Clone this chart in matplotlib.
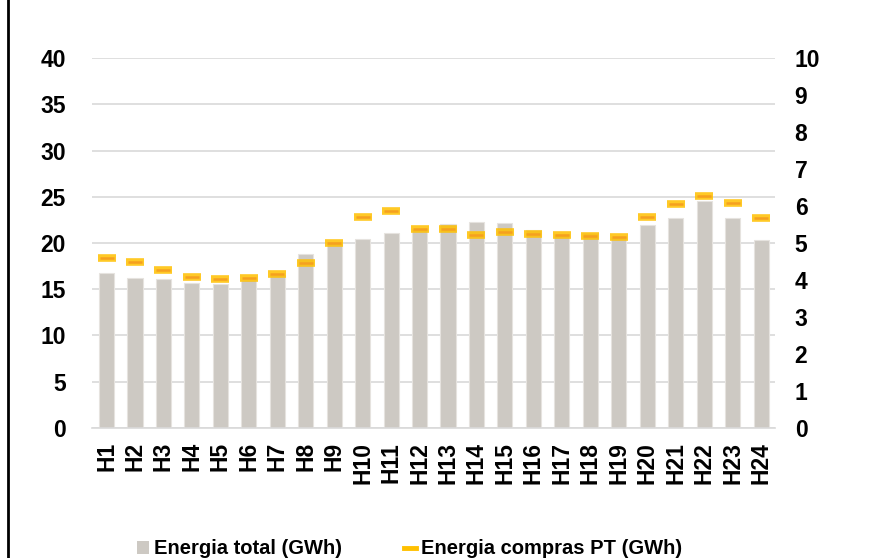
import numpy as np
import matplotlib
matplotlib.use('Agg')
import matplotlib.pyplot as plt
from matplotlib.lines import Line2D
from matplotlib.patches import Patch

plt.rcParams['font.family'] = ['Liberation Sans', 'DejaVu Sans']
plt.rcParams['font.weight'] = 'bold'

horas = ['H' + str(i) for i in range(1, 25)]
energia_total = [16.8, 16.2, 16.1, 15.7, 15.6, 16.0, 16.5, 18.8, 20.0, 20.4,
                 21.1, 21.5, 22.1, 22.3, 22.2, 21.4, 21.0, 21.1, 20.7, 22.0,
                 22.7, 24.5, 22.7, 20.3]
energia_pt = [4.60, 4.49, 4.26, 4.09, 4.03, 4.05, 4.15, 4.47, 5.01, 5.69,
              5.87, 5.39, 5.37, 5.21, 5.31, 5.24, 5.23, 5.19, 5.16, 5.71,
              6.05, 6.28, 6.08, 5.68]

bar_color = '#CDC9C3'
yellow = '#FFC000'
orange = '#F5A020'

fig = plt.figure(figsize=(8.79, 5.58), dpi=100)
ax1 = fig.add_axes([0.105, 0.233, 0.777, 0.663])
ax2 = ax1.twinx()

x = np.arange(len(horas))
ax1.bar(x, energia_total, width=0.53, color=bar_color, edgecolor='#E6E3DF',
        linewidth=0.8, zorder=2)
ax1.set_ylim(0, 40)
ax1.set_yticks(range(0, 41, 5))
ax1.set_xlim(-0.5, 23.5)
ax1.set_xticks(x)
ax1.set_xticklabels(horas, rotation=90, fontsize=15.5, fontweight='bold')
ax1.grid(axis='y', color='#D9D9D9', linewidth=1.2, zorder=0)
ax1.set_axisbelow(True)

ax2.plot(x, energia_pt, linestyle='none', marker='_', markersize=13.5,
         markeredgewidth=5.5, color=yellow, alpha=0.85, zorder=3)
ax2.plot(x, energia_pt, linestyle='none', marker='_', markersize=10,
         markeredgewidth=1.8, color=orange, zorder=4)
ax2.set_ylim(0, 10)
ax2.set_yticks(range(0, 11))

for ax in (ax1, ax2):
    for s in ax.spines.values():
        s.set_visible(False)
    ax.tick_params(length=0, labelsize=16.5)
    for lab in ax.get_yticklabels():
        lab.set_fontweight('bold')
ax1.spines['bottom'].set_visible(True)
ax1.spines['bottom'].set_color('#D9D9D9')
ax1.spines['bottom'].set_linewidth(1.2)
ax1.tick_params(axis='y', pad=19)
ax2.tick_params(axis='y', pad=14)
ax1.tick_params(axis='x', pad=10)

handles = [Patch(facecolor=bar_color, edgecolor='none'),
           Line2D([0], [0], color=yellow, linewidth=3.5)]
fig.legend(handles, ['Energia total (GWh)', 'Energia compras PT (GWh)'],
           loc='lower center', bbox_to_anchor=(0.466, -0.033), ncol=2,
           frameon=False, handlelength=0.6, handleheight=0.6,
           handletextpad=0.25, columnspacing=3.1,
           prop={'weight': 'bold', 'size': 14.5})

fig.add_artist(Line2D([0.009, 0.009], [0, 1], color='black', linewidth=2,
                      transform=fig.transFigure))

fig.savefig('out.png', dpi=100)
